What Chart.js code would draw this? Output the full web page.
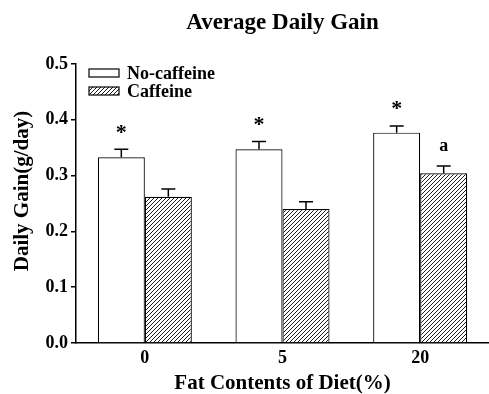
<!DOCTYPE html>
<html>
<head>
<meta charset="utf-8">
<script src="https://cdn.jsdelivr.net/npm/chart.js@4/dist/chart.umd.min.js"></script>
<style>
  html, body { margin: 0; padding: 0; background: #fff; }
  #wrap { width: 489px; height: 394px; position: relative; }
</style>
</head>
<body>
<div id="wrap"><canvas id="c" width="489" height="394"></canvas></div>
<script>
// Fat content of the diet (%)
const categories = ['0', '5', '20'];
// Mean daily gain (g/day) and its standard error, per group
const noCaffeine = [0.333, 0.347, 0.377];
const noCaffeineErr = [0.014, 0.014, 0.012];
const caffeine = [0.262, 0.240, 0.304];
const caffeineErr = [0.014, 0.013, 0.013];
// Significance marks printed above the error bars
const noCaffeineMarks = ['*', '*', '*'];
const caffeineMarks = ['', '', 'a'];
const yTicks = [0.0, 0.1, 0.2, 0.3, 0.4, 0.5];

const SERIF = "'Liberation Serif', 'Times New Roman', Times, serif";

// Diagonal hatch fill for the caffeine bars
function makeHatch() {
  const t = document.createElement('canvas');
  t.width = 4; t.height = 4;
  const g = t.getContext('2d');
  g.fillStyle = '#fff';
  g.fillRect(0, 0, 4, 4);
  g.strokeStyle = '#000';
  g.lineWidth = 0.9;
  g.beginPath();
  g.moveTo(-1, 5); g.lineTo(5, -1);
  g.moveTo(-1, 1); g.lineTo(1, -1);
  g.moveTo(3, 5); g.lineTo(5, 3);
  g.stroke();
  return document.getElementById('c').getContext('2d').createPattern(t, 'repeat');
}
const hatch = makeHatch();

const errors = [noCaffeineErr, caffeineErr];
const marks = [noCaffeineMarks, caffeineMarks];

// Error bars (upper half only) and significance marks
const errorBarPlugin = {
  id: 'errorBars',
  afterDatasetsDraw(chart) {
    const ctx = chart.ctx;
    const y = chart.scales.y;
    ctx.save();
    chart.data.datasets.forEach((ds, di) => {
      const meta = chart.getDatasetMeta(di);
      meta.data.forEach((bar, i) => {
        const top = y.getPixelForValue(ds.data[i] + errors[di][i]);
        ctx.strokeStyle = '#000';
        ctx.lineWidth = 1.5;
        ctx.beginPath();
        ctx.moveTo(bar.x, bar.y);
        ctx.lineTo(bar.x, top);
        ctx.moveTo(bar.x - 7, top);
        ctx.lineTo(bar.x + 7, top);
        ctx.stroke();
        const m = marks[di][i];
        if (m) {
          ctx.fillStyle = '#000';
          ctx.font = (m === '*' ? 'bold 22px ' : 'bold 18px ') + SERIF;
          ctx.textAlign = 'center';
          ctx.textBaseline = 'alphabetic';
          const tm = ctx.measureText(m);
          const h = tm.actualBoundingBoxAscent - tm.actualBoundingBoxDescent;
          const cy = top - 20;
          ctx.fillText(m, bar.x, cy + (tm.actualBoundingBoxAscent + tm.actualBoundingBoxDescent) / 2 - tm.actualBoundingBoxDescent);
        }
      });
    });
    ctx.restore();
  }
};

// Legend inside the plot and the rotated y-axis title
const decorPlugin = {
  id: 'decor',
  afterDraw(chart) {
    const ctx = chart.ctx;
    const a = chart.chartArea;
    ctx.save();
    const boxX = a.left + 13, boxW = 30, boxH = 8;
    const rows = [69, 87];
    chart.data.datasets.forEach((ds, di) => {
      const by = rows[di];
      ctx.fillStyle = ds.backgroundColor;
      ctx.fillRect(boxX, by, boxW, boxH);
      ctx.strokeStyle = '#000';
      ctx.lineWidth = 1.2;
      ctx.strokeRect(boxX, by, boxW, boxH);
      ctx.fillStyle = '#000';
      ctx.font = 'bold 18px ' + SERIF;
      ctx.textAlign = 'left';
      ctx.textBaseline = 'alphabetic';
      ctx.fillText(ds.label, boxX + 38, by + boxH + 2);
    });
    // y-axis title
    ctx.translate(28, 191);
    ctx.rotate(-Math.PI / 2);
    ctx.font = 'bold 21px ' + SERIF;
    ctx.textAlign = 'center';
    ctx.textBaseline = 'alphabetic';
    ctx.fillStyle = '#000';
    ctx.fillText('Daily Gain(g/day)', 0, 0);
    ctx.restore();
  }
};

new Chart(document.getElementById('c'), {
  type: 'bar',
  data: {
    labels: categories,
    datasets: [
      {
        label: 'No-caffeine',
        data: noCaffeine,
        backgroundColor: '#ffffff',
        borderColor: '#000',
        borderWidth: 1.2,
        borderSkipped: 'start'
      },
      {
        label: 'Caffeine',
        data: caffeine,
        backgroundColor: hatch,
        borderColor: '#000',
        borderWidth: 1.2,
        borderSkipped: 'start'
      }
    ]
  },
  options: {
    responsive: false,
    animation: false,
    devicePixelRatio: 1,
    categoryPercentage: 0.683,
    barPercentage: 1.0,
    layout: { padding: 0 },
    plugins: {
      legend: { display: false },
      tooltip: { enabled: false },
      title: {
        display: true,
        text: 'Average Daily Gain',
        fullSize: false,
        color: '#000',
        font: { family: SERIF, size: 23, weight: 'bold', lineHeight: 1.2 },
        padding: { top: 9, bottom: 27.4 }
      }
    },
    scales: {
      x: {
        offset: true,
        grid: { display: false, drawTicks: false },
        border: { display: true, color: '#000', width: 1.5 },
        ticks: {
          color: '#000',
          padding: 5,
          font: { family: SERIF, size: 18, weight: 'bold' }
        },
        title: {
          display: true,
          text: 'Fat Contents of Diet(%)',
          color: '#000',
          font: { family: SERIF, size: 21, weight: 'bold', lineHeight: 1.0 },
          padding: { top: 0, bottom: 0 }
        },
        afterFit(scale) { scale.height = 51; }
      },
      y: {
        min: 0,
        max: 0.5,
        afterBuildTicks(scale) { scale.ticks = yTicks.map(v => ({ value: v })); },
        grid: {
          drawOnChartArea: false,
          drawTicks: true,
          tickLength: 5,
          color: '#000',
          lineWidth: 1.5
        },
        border: { display: true, color: '#000', width: 1.5 },
        ticks: {
          color: '#000',
          padding: 3,
          font: { family: SERIF, size: 18, weight: 'bold' },
          callback: v => Number(v).toFixed(1)
        },
        afterFit(scale) { scale.width = 76; }
      }
    }
  },
  plugins: [errorBarPlugin, decorPlugin]
});
</script>
</body>
</html>
